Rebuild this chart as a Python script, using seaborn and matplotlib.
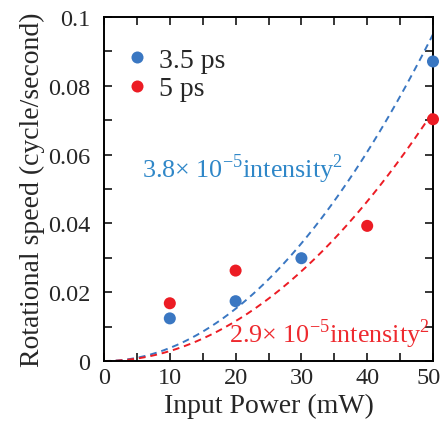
import numpy as np
import pandas as pd
import matplotlib
matplotlib.use("Agg")
import matplotlib.pyplot as plt
import matplotlib.transforms as mtransforms
import seaborn as sns
from matplotlib.ticker import MultipleLocator

# Data
power_35 = [10, 20, 30, 50]
speed_35 = [0.0124, 0.0174, 0.0299, 0.0871]
power_5 = [10, 20, 40, 50]
speed_5 = [0.0168, 0.0263, 0.0393, 0.0703]
series_labels = ["3.5 ps", "5 ps"]
fit_coef = [3.8e-5, 2.9e-5]
fit_text = [r"3.8$\times$ 10$^{-5}$intensity$^{2}$", r"2.9$\times$ 10$^{-5}$intensity$^{2}$"]
x_ticks = [0, 10, 20, 30, 40, 50]
y_ticks = [0, 0.02, 0.04, 0.06, 0.08, 0.1]
y_ticklabels = ["0", "0.02", "0.04", "0.06", "0.08", "0.1"]

sns.set_style("ticks")
plt.rcParams["font.family"] = ["Liberation Serif", "DejaVu Serif"]
plt.rcParams["mathtext.fontset"] = "custom"
plt.rcParams["mathtext.rm"] = "Liberation Serif"

blue = "#3a77c2"
red = "#ec1c24"
blue_txt = "#2f87c8"
red_txt = "#ee2a2f"

df = pd.DataFrame({
    "power": power_35 + power_5,
    "speed": speed_35 + speed_5,
    "pulse": [series_labels[0]] * len(power_35) + [series_labels[1]] * len(power_5),
})

xfit = np.linspace(0, 50, 200)
fit_df = pd.DataFrame({
    "power": np.concatenate([xfit, xfit]),
    "speed": np.concatenate([fit_coef[0] * xfit ** 2, fit_coef[1] * xfit ** 2]),
    "pulse": [series_labels[0]] * len(xfit) + [series_labels[1]] * len(xfit),
})

fig = plt.figure(figsize=(4.43, 4.31), dpi=100)
ax = fig.add_axes([0.2348, 0.160, 0.7426, 0.798])

palette = {series_labels[0]: blue, series_labels[1]: red}
sns.lineplot(data=fit_df, x="power", y="speed", hue="pulse", palette=palette,
             linestyle=(0, (3.5, 2.5)), linewidth=1.4, legend=False, ax=ax)
sns.scatterplot(data=df, x="power", y="speed", hue="pulse", palette=palette,
                s=75, edgecolor="none", ax=ax, zorder=5, clip_on=False)

ax.set_xlim(0, 50)
ax.set_ylim(0, 0.1)
ax.set_xticks(x_ticks)
ax.xaxis.set_minor_locator(MultipleLocator(5))
ax.yaxis.set_minor_locator(MultipleLocator(0.01))
ax.set_yticks(y_ticks)
ax.set_yticklabels(y_ticklabels)
ax.tick_params(which="both", direction="in", top=True, right=True,
               length=6, width=1.3, labelsize=17.5)
ax.tick_params(axis="x", pad=4)
ax.tick_params(axis="y", pad=10)
for sp in ax.spines.values():
    sp.set_linewidth(1.4)
    sp.set_color("black")

# nudge the last x tick label slightly left so it stays inside the figure
last_lbl = ax.get_xticklabels()[-1]
last_lbl.set_transform(last_lbl.get_transform() +
                       mtransforms.ScaledTranslation(-4 / 100, 0, fig.dpi_scale_trans))

ax.set_xlabel("Input Power (mW)", fontsize=20, labelpad=4)
ax.set_ylabel("Rotational speed (cycle/second)", fontsize=20, labelpad=2)

leg = ax.legend(loc="upper left", bbox_to_anchor=(0.02, 0.945), frameon=False,
                fontsize=20, handletextpad=0.25, labelspacing=0.12,
                borderaxespad=0.0, markerscale=1.0, handlelength=1.1)

ax.text(5.8, 0.0535, fit_text[0], color=blue_txt, fontsize=18.8, ha="left", va="baseline")
ax.text(19.0, 0.0055, fit_text[1], color=red_txt, fontsize=18.8, ha="left", va="baseline")

fig.savefig("out.png", dpi=100)
